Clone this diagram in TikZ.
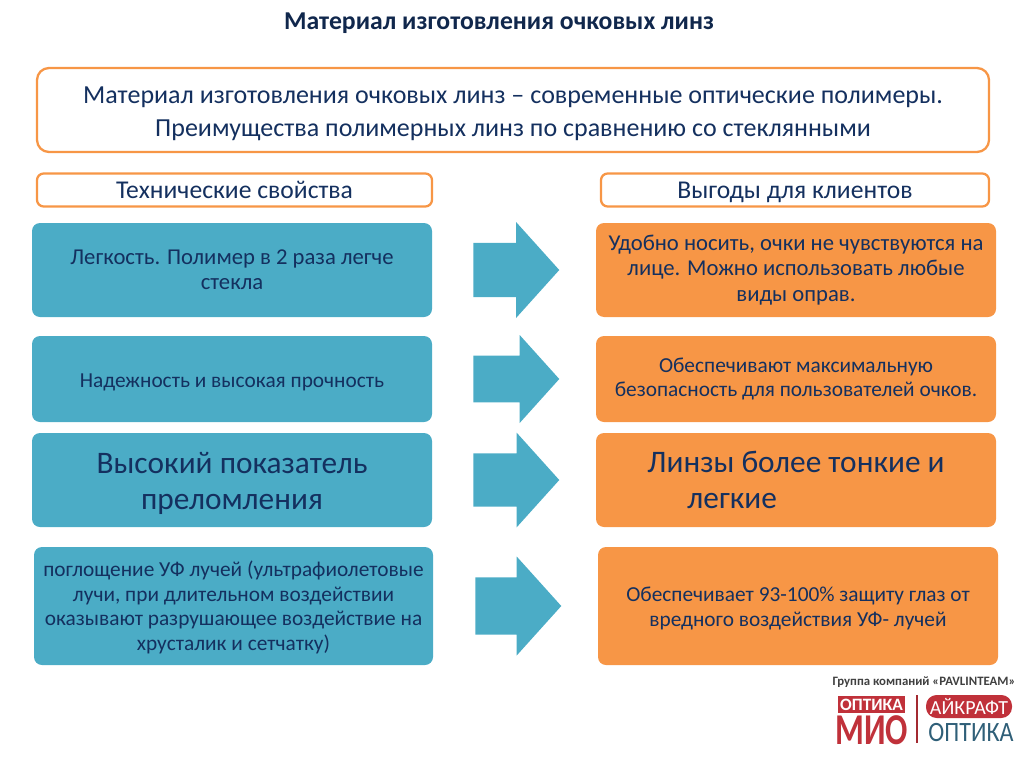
\documentclass[tikz,border=0pt]{standalone}
\usepackage{fontspec}
\setmainfont{Carlito}
\usetikzlibrary{shapes.arrows, positioning}

\definecolor{tealfill}{HTML}{4BACC6}
\definecolor{orangefill}{HTML}{F79646}
\definecolor{navytext}{HTML}{14305F}
\definecolor{miored}{HTML}{C0313A}
\definecolor{aikteal}{HTML}{2F5F78}

\tikzset{
    size/.code 2 args={\pgfkeysalso{minimum width=0.75pt*#1, minimum height=0.75pt*#2}},
    arr/.style={single arrow, anchor=tail, fill=tealfill, minimum width=0.75pt*#1,
                inner ysep=0.272pt*(#1-38), single arrow head extend=12.3pt,
                single arrow tip angle=96, minimum height=64.5pt},
}

\begin{document}
\begin{tikzpicture}[
    x=0.75pt, y=-0.75pt,
    every node/.style={font=\fontsize{16}{18.5}\selectfont, text=navytext, align=center, inner sep=0pt},
    framebox/.style={rectangle, rounded corners=9pt, draw=orangefill, line width=1.7pt, fill=white},
    headbox/.style={framebox, rounded corners=5pt, font=\fontsize{19.2}{22}\selectfont,
                    text height=15pt, text depth=2.7pt},
    techbox/.style={rectangle, rounded corners=6pt, fill=tealfill},
    gainbox/.style={rectangle, rounded corners=6pt, fill=orangefill},
    bigtext/.style={font=\fontsize{23.5}{26.5}\selectfont},
    widetext/.style={font=\fontsize{17}{19}\selectfont},
]
\useasboundingbox (0,0) rectangle (1024,767);

\node[font=\fontsize{19.3}{22}\selectfont\bfseries, text=navytext!80!black] (title) at (499,23) {Материал изготовления очковых линз};

\node[framebox, size={952}{84}, font=\fontsize{19.5}{25}\selectfont] (intro) at (513,110)
    {\rule{0pt}{18pt}Материал изготовления очковых линз – современные оптические полимеры.\\Преимущества полимерных линз по сравнению со стеклянными};

\node[headbox, size={395}{33}] (techhead) at (234.5,190) {Технические свойства};
\node[headbox, size={388}{33}] (gainhead) at (795,190) {Выгоды для клиентов};

% left column
\node[techbox, widetext, size={400}{94}] (tech1) at (232,270) {Легкость. Полимер в 2 раза легче\\стекла};
\node[techbox, size={400}{86}] (tech2) at (232,379) {\rule{0pt}{16pt}Надежность и высокая прочность};
\node[techbox, size={400}{94}, bigtext] (tech3) at (232,480) {\rule{0pt}{21pt}Высокий показатель\\преломления};
\node[techbox, size={399}{118}] (tech4) at (233.5,606)
    {\rule{0pt}{14pt}поглощение УФ лучей (ультрафиолетовые\\лучи, при длительном воздействии\\оказывают разрушающее воздействие на\\хрусталик и сетчатку)};

% right column
\node[gainbox, widetext, size={400}{94}] (gain1) at (796,270) {Удобно носить, очки не чувствуются на\\лице. Можно использовать любые\\виды оправ.};
\node[gainbox, size={400}{86}] (gain2) at (796,379) {Обеспечивают максимальную\\безопасность для пользователей очков.};
\node[gainbox, size={400}{94}] (gain3) at (796,480) {};
\node[bigtext, align=left] (gain3text) at (796,480) {Линзы более тонкие и\\\hspace*{30pt}легкие};
\node[gainbox, size={400}{118}] (gain4) at (798,606) {\rule{0pt}{15pt}Обеспечивает 93-100\% защиту глаз от\\вредного воздействия УФ- лучей};

% arrows
\node[arr=96] (arrow1) at (473,270) {};
\node[arr=88] (arrow2) at (473,379) {};
\node[arr=95] (arrow3) at (473,480) {};
\node[arr=99] (arrow4) at (475,606) {};

% logo
\node[font=\fontsize{9.6}{10}\selectfont\bfseries, text=black!75] (group) at (924,682) {Группа компаний «PAVLINTEAM»};
\node[rectangle, fill=miored, size={67}{17}, text=white, font=\fontsize{13}{13}\selectfont\bfseries] (mio1) at (871.5,704.5) {ОПТИКА};
\node[text=miored, font=\fontsize{33}{33}\selectfont\bfseries] (mio2) at (871.5,730.5) {\scalebox{0.75}[1]{МИО}};
\node[rectangle, fill=miored!85!black, size={2.5}{48}] (divider) at (917,719) {};
\node[rectangle, rounded corners=8pt, fill=miored, size={86}{23}, text=white, font=\fontsize{15}{15}\selectfont] (aik1) at (969,706.5) {АЙКРАФТ};
\node[text=aikteal, font=\fontsize{21}{21}\selectfont] (aik2) at (971,733) {\scalebox{0.86}[1]{ОПТИКА}};
\end{tikzpicture}
\end{document}
